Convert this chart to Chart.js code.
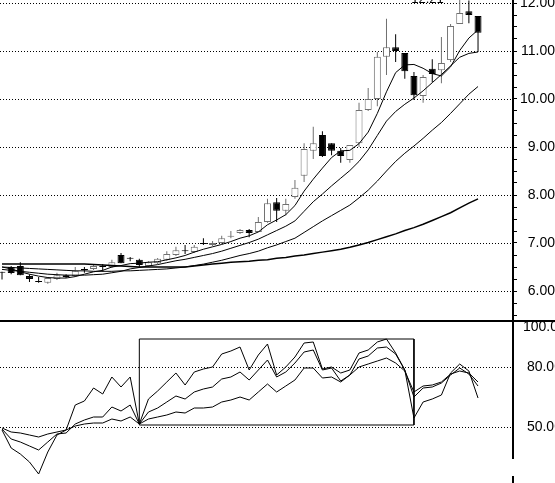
<!DOCTYPE html>
<html><head><meta charset="utf-8">
<script src="https://cdn.jsdelivr.net/npm/chart.js@4.4.0/dist/chart.umd.min.js"></script>
<style>
html,body{margin:0;padding:0;background:#fff;overflow:hidden;width:555px;height:483px}
#c1{position:absolute;left:0;top:0}
#c2{position:absolute;left:0;top:320px}
</style></head><body>
<canvas id="c1" width="555" height="320"></canvas>
<canvas id="c2" width="555" height="163"></canvas>
<script>
// ---- price data (one entry per trading day) ----
const openP  = [6.38,6.50,6.52,6.31,6.19,6.17,6.25,6.33,6.31,6.44,6.46,6.50,6.50,6.75,6.67,6.65,6.52,6.58,6.65,6.75,6.83,6.81,7.00,6.96,7.00,7.13,7.21,7.27,7.23,7.44,7.85,7.67,7.96,8.40,8.92,9.25,9.08,8.92,8.73,9.08,9.77,10.00,10.88,11.08,10.96,10.48,10.06,10.63,10.60,10.81,11.56,11.83,11.73];
const highP  = [6.40,6.52,6.60,6.35,6.29,6.29,6.38,6.35,6.50,6.50,6.54,6.56,6.65,6.79,6.71,6.67,6.62,6.69,6.83,6.92,6.96,6.96,7.10,7.04,7.15,7.25,7.29,7.29,7.54,7.92,7.94,7.92,8.31,9.08,9.42,9.33,9.08,8.98,9.04,9.92,10.23,10.98,11.67,11.35,10.96,10.56,10.50,10.83,11.29,11.56,12.21,12.05,11.73];
const lowP   = [6.24,6.35,6.33,6.19,6.17,6.15,6.23,6.27,6.29,6.38,6.44,6.40,6.48,6.58,6.62,6.48,6.50,6.56,6.63,6.73,6.77,6.79,6.96,6.94,6.98,7.10,7.19,7.12,7.23,7.42,7.44,7.58,7.92,8.27,8.75,8.79,8.83,8.67,8.67,9.00,9.75,9.85,10.50,10.77,10.42,9.98,9.92,10.35,10.33,10.77,11.56,11.58,10.98];
const closeP = [6.38,6.375,6.33,6.25,6.19,6.27,6.33,6.29,6.42,6.44,6.52,6.50,6.60,6.58,6.67,6.54,6.60,6.67,6.77,6.85,6.83,6.92,6.98,7.00,7.10,7.15,7.27,7.21,7.44,7.83,7.67,7.81,8.15,8.96,9.08,8.81,8.92,8.81,9.04,9.77,10.00,10.88,11.08,11.00,10.58,10.08,10.46,10.52,10.75,11.52,11.79,11.75,11.38];
// ---- moving averages ----
const ma5  = [6.50,6.46,6.40,6.35,6.31,6.28,6.27,6.27,6.30,6.35,6.40,6.43,6.50,6.53,6.57,6.58,6.60,6.61,6.65,6.69,6.74,6.81,6.87,6.92,6.97,7.03,7.10,7.15,7.23,7.38,7.48,7.59,7.78,8.08,8.33,8.56,8.78,8.92,8.93,9.07,9.31,9.70,10.15,10.55,10.71,10.72,10.64,10.53,10.48,10.67,11.01,11.27,11.44];
const ma10 = [6.45,6.43,6.41,6.39,6.37,6.35,6.34,6.33,6.33,6.33,6.34,6.35,6.38,6.41,6.46,6.49,6.52,6.55,6.59,6.63,6.66,6.70,6.74,6.78,6.83,6.89,6.95,7.01,7.08,7.17,7.26,7.35,7.46,7.66,7.86,8.02,8.19,8.35,8.51,8.70,8.94,9.24,9.54,9.74,9.89,10.02,10.17,10.34,10.51,10.69,10.87,10.95,10.98];
const ma20 = [6.50,6.49,6.48,6.47,6.46,6.45,6.44,6.43,6.42,6.42,6.41,6.41,6.41,6.42,6.42,6.43,6.44,6.45,6.46,6.48,6.50,6.53,6.56,6.60,6.64,6.69,6.74,6.78,6.83,6.90,6.96,7.03,7.10,7.22,7.34,7.46,7.57,7.68,7.79,7.94,8.10,8.29,8.50,8.70,8.87,9.02,9.18,9.35,9.51,9.70,9.90,10.10,10.26];
const ma60 = [6.56,6.56,6.56,6.56,6.56,6.56,6.56,6.56,6.56,6.56,6.55,6.54,6.53,6.52,6.51,6.50,6.50,6.50,6.50,6.50,6.50,6.52,6.54,6.56,6.58,6.60,6.61,6.62,6.64,6.65,6.68,6.70,6.73,6.75,6.78,6.81,6.84,6.87,6.91,6.96,7.01,7.07,7.13,7.19,7.26,7.32,7.39,7.47,7.55,7.63,7.73,7.83,7.92];
// ---- indicator panel lines ----
const indFast = [48.5,39.5,36.5,32.5,26.5,37.5,46,48.5,61,63,69.5,66.5,75,70,75,51.5,64,68,72.5,77,71,77.5,79,80,86.5,88,90,78.5,86,91.5,76,80,85,92,92.5,79,80,77,78.5,87,88.5,92.5,94,87,78.5,54.5,62.5,64,66,77,81.5,78,64.5];
const indMid  = [49,44,42.5,40.5,38.5,42.5,46.5,47,51.5,53.5,55,55,60,58,61,51.5,57.5,59.5,62.5,65.5,64,67.5,69,70,74,75,77.5,73.5,78.5,83.5,75,77.5,82,87.5,88.5,78.5,79.5,73,76,84,85.5,89.5,90,86.5,78.5,65,69.5,70,72,76,79.5,76.5,70.5];
const indSlow = [49.5,47.5,47,46,45,46.5,47.5,48.5,50.5,51.5,52,52,54,53,55,51.5,54,55,56,57.5,57,59.5,59.5,60,62.5,63.5,65,63.5,67.5,71.5,67.5,70.5,73.5,79.5,79.5,74.5,75,72.5,76,80,81.5,83,84.5,82,78,67.5,70.5,71,72.5,76.5,78,77,72.5];
// ---- annotation box in indicator panel (day index, value) ----
const boxDays = [15, 45];
const boxVals = [51, 94];
// ---- axis tick labels ----
const priceLabels = [6, 7, 8, 9, 10, 11, 12];
const priceMinorStep = 0.25;
const indLabels = [50, 80, 100];
const maxLabel = '12.21';

const days = closeP.map((_, i) => i);
const X_MIN = -0.22, X_MAX = 55.82;
const FONT = {family: 'Liberation Sans, Arial, sans-serif', size: 14};

function dottedGrid(id) {
  return {
    id: id,
    beforeDatasetsDraw(chart, args, opts) {
      const ctx = chart.ctx, ys = chart.scales.y, a = chart.chartArea;
      ctx.save();
      ctx.strokeStyle = '#000'; ctx.lineWidth = 1; ctx.setLineDash([1, 2]);
      for (const v of opts.values) {
        const py = Math.round(ys.getPixelForValue(v)) + 0.5;
        ctx.beginPath(); ctx.moveTo(a.left, py); ctx.lineTo(a.right, py); ctx.stroke();
      }
      ctx.restore();
    }
  };
}

const isUp = days.map(i => closeP[i] > openP[i]);
const bodyFill = days.map(i => isUp[i] ? '#ffffff' : '#000000');
const bodyEdge = days.map(i => isUp[i] ? '#707070' : '#000000');
const wickCol  = days.map(i => isUp[i] ? '#707070' : '#000000');

function maSet(arr, w) {
  return {type: 'line', data: days.map(i => ({x: i, y: arr[i]})), borderColor: '#000', borderWidth: w,
          pointRadius: 0, tension: 0, fill: false, order: 0};
}

const topPlugin = {
  id: 'topExtras',
  afterDatasetsDraw(chart) {
    const ctx = chart.ctx, xs = chart.scales.x, ys = chart.scales.y;
    ctx.save();
    ctx.fillStyle = '#000';
    ctx.font = '13px Liberation Sans, Arial, sans-serif';
    ctx.textAlign = 'right'; ctx.textBaseline = 'alphabetic';
    const hi = highP.indexOf(Math.max(...highP));
    ctx.fillText(maxLabel, xs.getPixelForValue(hi) - 16, ys.getPixelForValue(highP[hi]) + 10);
    ctx.restore();
  }
};

function noPad(s) { s.width = 42; s.paddingTop = 0; s.paddingBottom = 0; }

new Chart(document.getElementById('c1'), {
  type: 'line',
  data: {
    datasets: [
      maSet(ma5, 1), maSet(ma10, 1), maSet(ma20, 1), maSet(ma60, 1.5),
      {type: 'bar', data: days.map(i => ({x: i, y: [openP[i], closeP[i]]})), backgroundColor: bodyFill,
       borderColor: bodyEdge, borderWidth: 1, borderSkipped: false, barThickness: 7, grouped: false,
       minBarLength: 1, inflateAmount: 0, order: 1},
      {type: 'bar', data: days.map(i => ({x: i, y: [lowP[i], highP[i]]})), backgroundColor: wickCol,
       borderWidth: 0, barThickness: 1, grouped: false, inflateAmount: 0, order: 2}
    ]
  },
  options: {
    responsive: false, animation: false, events: [],
    layout: {padding: 0, autoPadding: false},
    plugins: {legend: {display: false}, tooltip: {enabled: false}, priceDots: {values: priceLabels}},
    scales: {
      x: {type: 'linear', min: X_MIN, max: X_MAX, display: false, offset: false, bounds: 'data', grid: {offset: false}},
      y: {
        position: 'right', min: 12 - 317 / 48, max: 12 + 3 / 48,
        afterBuildTicks: s => {
          const t = [];
          for (let v = 5.5; v <= 12.001; v += priceMinorStep) t.push({value: Math.round(v * 100) / 100});
          s.ticks = t;
        },
        afterFit: noPad,
        grid: {drawOnChartArea: false, drawTicks: true, tickLength: 4, tickColor: '#000', tickWidth: 1},
        border: {display: true, color: '#000', width: 2},
        ticks: {autoSkip: false, padding: 10, crossAlign: 'far', color: '#000', font: FONT,
                callback: v => priceLabels.includes(v) ? v.toFixed(2) : ''}
      }
    }
  },
  plugins: [dottedGrid('priceDots'), topPlugin]
});

const lowerPlugin = {
  id: 'lowerExtras',
  afterDraw(chart) {
    const ctx = chart.ctx, a = chart.chartArea;
    ctx.save();
    ctx.strokeStyle = '#000';
    ctx.lineWidth = 2;
    ctx.beginPath(); ctx.moveTo(0, 1); ctx.lineTo(chart.width, 1); ctx.stroke();
    ctx.beginPath(); ctx.moveTo(a.right, 0); ctx.lineTo(a.right, 139); ctx.stroke();
    ctx.beginPath(); ctx.moveTo(a.right, 156); ctx.lineTo(a.right, chart.height); ctx.stroke();
    ctx.restore();
  }
};

function indSet(arr) {
  return {data: days.map(i => ({x: i, y: arr[i]})), borderColor: '#000', borderWidth: 1,
          pointRadius: 0, tension: 0, fill: false};
}

new Chart(document.getElementById('c2'), {
  type: 'line',
  data: {
    datasets: [
      indSet(indFast), indSet(indMid), indSet(indSlow),
      {data: [{x: boxDays[0], y: boxVals[1]}, {x: boxDays[1], y: boxVals[1]}, {x: boxDays[1], y: boxVals[0]},
              {x: boxDays[0], y: boxVals[0]}, {x: boxDays[0], y: boxVals[1]}],
       borderColor: '#000', borderWidth: 1, pointRadius: 0, tension: 0, fill: false}
    ]
  },
  options: {
    responsive: false, animation: false, events: [],
    layout: {padding: 0, autoPadding: false},
    plugins: {legend: {display: false}, tooltip: {enabled: false}, indDots: {values: [50, 80]}},
    scales: {
      x: {type: 'linear', min: X_MIN, max: X_MAX, display: false, offset: false, bounds: 'data'},
      y: {
        position: 'right', min: 22, max: 103.5,
        afterBuildTicks: s => { s.ticks = indLabels.map(v => ({value: v})); },
        afterFit: noPad,
        grid: {drawOnChartArea: false, drawTicks: true, tickLength: 4, tickColor: 'rgba(0,0,0,0)'},
        border: {display: false},
        ticks: {autoSkip: false, padding: 6, crossAlign: 'center', color: '#000', font: FONT,
                callback: v => v.toFixed(2)}
      }
    }
  },
  plugins: [dottedGrid('indDots'), lowerPlugin]
});
</script>
</body></html>
